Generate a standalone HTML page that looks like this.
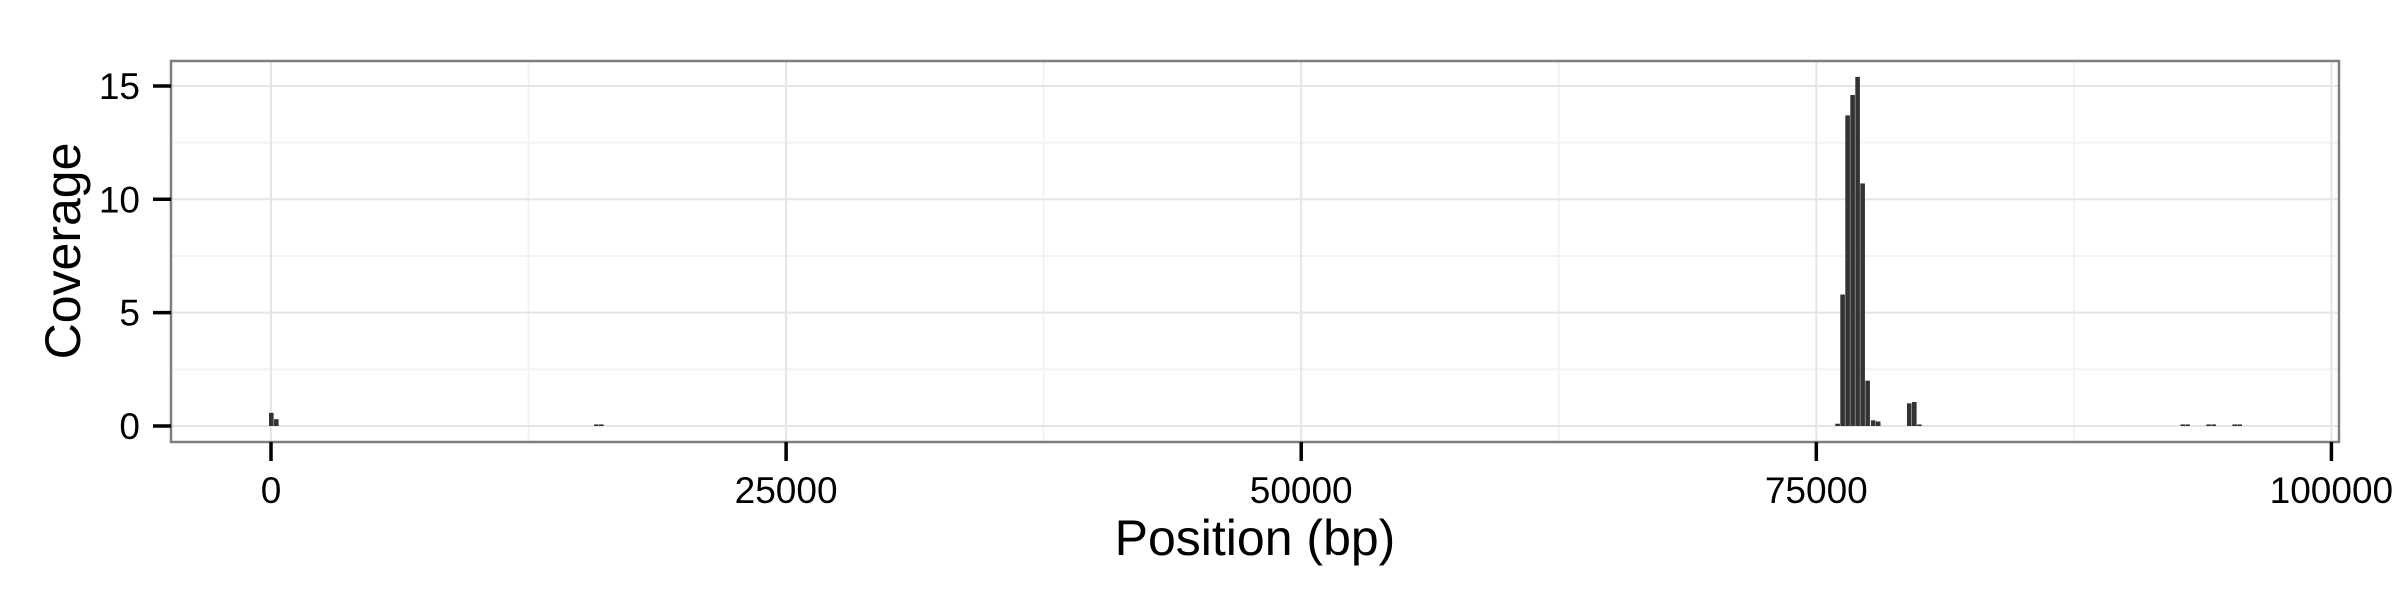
<!DOCTYPE html>
<html><head><meta charset="utf-8"><style>
html,body{margin:0;padding:0;background:#fff;}
svg{display:block;font-family:"Liberation Sans",Arial,sans-serif;}
</style></head><body>
<svg id="chart" width="2400" height="600" viewBox="0 0 2400 600" xmlns="http://www.w3.org/2000/svg">
<rect x="0" y="0" width="2400" height="600" fill="#fff"/>
<g id="grid"></g>
<g id="bars"></g>
<rect x="171" y="61" width="2168" height="381" fill="none" stroke="#7f7f7f" stroke-width="2.5"/>
<g id="axes"></g>
<text x="1255" y="555" font-size="50" text-anchor="middle" fill="#000">Position (bp)</text>
<text transform="translate(80,251) rotate(-90)" font-size="50" text-anchor="middle" fill="#000">Coverage</text>
</svg>
<script>
const binStarts = [-97, 146, 15680, 15923, 75922, 76165, 76408, 76650, 76893, 77136, 77380, 77650, 77892, 79400, 79645, 79890, 92670, 92910, 93930, 94175, 95194, 95437];
const coverage = [0.58, 0.3, 0.07, 0.07, 0.1, 5.8, 13.7, 14.6, 15.4, 10.7, 2.0, 0.25, 0.2, 1.0, 1.06, 0.07, 0.07, 0.07, 0.07, 0.07, 0.07, 0.07];
const binWidth = 243;
const xTicks = [0, 25000, 50000, 75000, 100000];
const xMinor = [12500, 37500, 62500, 87500];
const yTicks = [0, 5, 10, 15];
const yMinor = [2.5, 7.5, 12.5];

const NS = "http://www.w3.org/2000/svg";
const PL = 171, PR = 2339, PT = 61, PB = 442;
function xs(v){ return 271 + v * 0.020604; }
function ys(v){ return 426 - v * 22.67; }
function mk(tag, attrs, parent){
  const e = document.createElementNS(NS, tag);
  for (const k in attrs) e.setAttribute(k, attrs[k]);
  parent.appendChild(e);
  return e;
}
const grid = document.getElementById('grid');
const bars = document.getElementById('bars');
const axes = document.getElementById('axes');

yMinor.forEach(v => {
  const l = mk('line', {x1: PL, x2: PR, y1: ys(v), y2: ys(v), stroke: '#f3f3f3', 'stroke-width': 2}, grid);
  
  
});
xMinor.forEach(v => {
  const l = mk('line', {x1: xs(v), x2: xs(v), y1: PT, y2: PB, stroke: '#f3f3f3', 'stroke-width': 2}, grid);
  
  
});
yTicks.forEach(v => {
  const l = mk('line', {x1: PL, x2: PR, y1: ys(v), y2: ys(v), stroke: '#e5e5e5', 'stroke-width': 2}, grid);
  
  
  const t = mk('line', {x1: 153, x2: 171, y1: ys(v), y2: ys(v), stroke: '#000', 'stroke-width': 3.5}, axes);
  
  
  const tx = mk('text', {x: 140, y: ys(v) + 13, 'font-size': 37, 'text-anchor': 'end', fill: '#000'}, axes);
  tx.textContent = String(v);
  
  
});
xTicks.forEach(v => {
  const l = mk('line', {x1: xs(v), x2: xs(v), y1: PT, y2: PB, stroke: '#e5e5e5', 'stroke-width': 2}, grid);
  
  
  const t = mk('line', {x1: xs(v), x2: xs(v), y1: PB, y2: 461, stroke: '#000', 'stroke-width': 3.5}, axes);
  
  
  const tx = mk('text', {x: xs(v), y: 503, 'font-size': 37, 'text-anchor': 'middle', fill: '#000'}, axes);
  tx.textContent = String(v);
  
  
});
binStarts.forEach((s, i) => {
  const x0 = xs(s), x1 = xs(s + binWidth);
  const y0 = ys(coverage[i]);
  const r = mk('rect', {x: x0, y: y0, width: Math.max(1, x1 - x0 - 0.4), height: Math.max(1.5, ys(0) - y0), fill: '#333333'}, bars);
  
  
});
</script>
</body></html>
